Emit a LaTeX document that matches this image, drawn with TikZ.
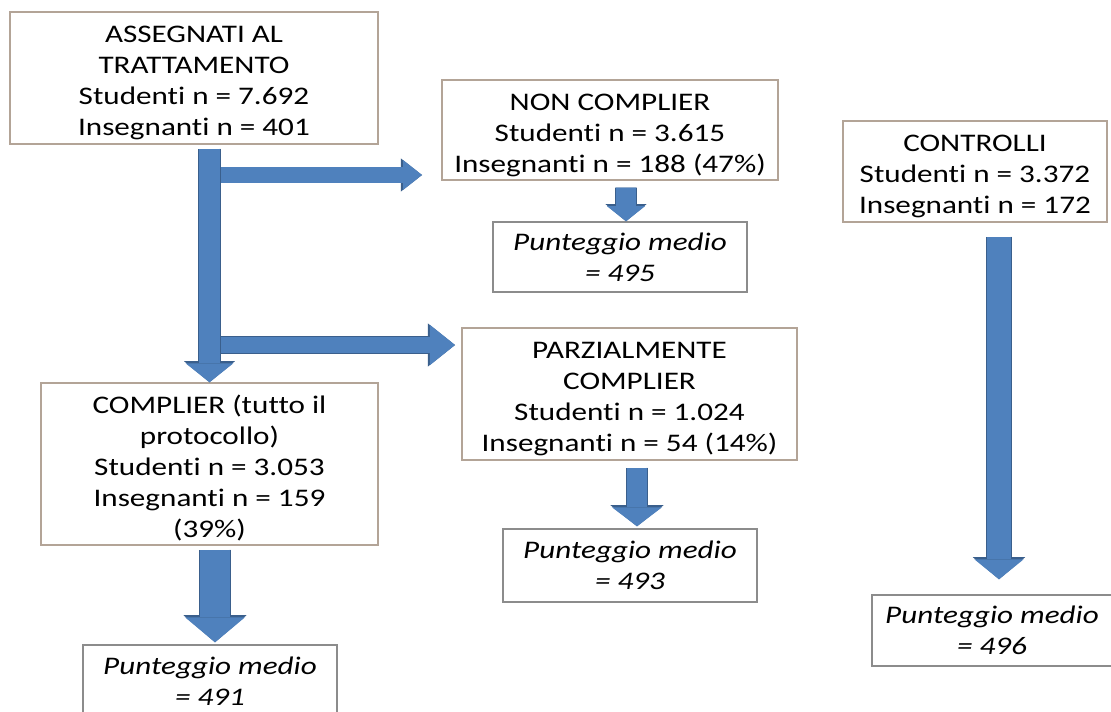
\documentclass[tikz,border=0pt]{standalone}
\usepackage{fontspec}
\setmainfont{Carlito}[FakeStretch=1.23, Ligatures=CommonOff]
\usetikzlibrary{arrows.meta,calc}
\definecolor{flowBlue}{HTML}{4F81BD}
\definecolor{flowEdge}{HTML}{3A5F8C}
\definecolor{flowTan}{HTML}{B3A497}
\definecolor{flowGray}{HTML}{8C8C8C}
\newcommand{\boxstrut}{\rule{0pt}{19pt}}
\tikzset{
  groupbox/.style={draw=flowTan, line width=1pt, fill=white, align=center, inner sep=0pt,
    font=\fontsize{18}{22}\selectfont},
  scorebox/.style={draw=flowGray, line width=1pt, fill=white, align=center, inner sep=0pt,
    font=\fontsize{18}{22}\selectfont\itshape},
  blockarrow/.style n args={3}{draw=flowBlue, line width=#1,
    -{Triangle[width=#2, length=#3, line width=0pt]},
    preaction={draw=flowEdge, line width=#1+1.2pt,
      -{Triangle[width=#2+2.2pt, length=#3+1.5pt, line width=0pt]}}}
}
\begin{document}
\begin{tikzpicture}[x=0.025cm, y=-0.025cm]
  \useasboundingbox (0,0) rectangle (1111,711);
  % boxes
  \node[groupbox, minimum width=9.2cm, minimum height=3.3cm] (assegnati) at (194,78)
    {\boxstrut ASSEGNATI AL\\TRATTAMENTO\\Studenti n = 7.692\\Insegnanti n = 401};
  \node[groupbox, minimum width=8.4cm, minimum height=2.5cm] (noncompl) at (610,130)
    {\boxstrut NON COMPLIER\\Studenti n = 3.615\\Insegnanti n = 188 (47\%)};
  \node[groupbox, minimum width=6.6cm, minimum height=2.525cm] (controlli) at (975,171.5)
    {\boxstrut CONTROLLI\\Studenti n = 3.372\\Insegnanti n = 172};
  \node[groupbox, minimum width=8.375cm, minimum height=3.3cm] (parziale) at (629.5,394)
    {\boxstrut PARZIALMENTE\\COMPLIER\\Studenti n = 1.024\\Insegnanti n = 54 (14\%)};
  \node[groupbox, minimum width=8.425cm, minimum height=4.05cm] (complier) at (209.5,464)
    {\boxstrut COMPLIER (tutto il\\protocollo)\\Studenti n = 3.053\\Insegnanti n = 159\\(39\%)};
  \node[scorebox, minimum width=6.35cm, minimum height=1.75cm] (score495) at (620,257)
    {Punteggio medio\\= 495};
  \node[scorebox, minimum width=6.35cm, minimum height=1.825cm] (score493) at (630,565.5)
    {Punteggio medio\\= 493};
  \node[scorebox, minimum width=6cm, minimum height=1.775cm] (score496) at (992,630.5)
    {Punteggio medio\\= 496};
  \node[scorebox, minimum width=6.35cm, minimum height=1.8cm] (score491) at (210,681)
    {Punteggio medio\\= 491};
  % branch tips
  \coordinate (tipnon) at (422,175);
  \coordinate (tipparz) at (455,345);
  % arrows
  \draw[blockarrow={10.7pt}{21.3pt}{13.5pt}] (tipnon -| complier.north) -- (tipnon);
  \draw[blockarrow={12pt}{28.5pt}{17.8pt}] (tipparz -| complier.north) -- (tipparz);
  \draw[blockarrow={15.6pt}{34pt}{13.5pt}] ([yshift=-0.1cm]assegnati.south -| complier.north) -- (complier.north);
  \draw[blockarrow={14.2pt}{27pt}{10.7pt}] ([shift={(6,7)}]score495.north |- noncompl.south) -- ([xshift=0.15cm]score495.north);
  \draw[blockarrow={14.2pt}{35.6pt}{13.5pt}] ([shift={(7,7)}]score493.north |- parziale.south) -- ([shift={(7,-2)}]score493.north);
  \draw[blockarrow={21.3pt}{42.7pt}{17.8pt}] ([shift={(5,4)}]score491.north |- complier.south) -- ([shift={(5,-2)}]score491.north);
  \draw[blockarrow={17pt}{35pt}{14.2pt}] ([shift={(7,14)}]score496.north |- controlli.south) -- ([shift={(7,-15)}]score496.north);
\end{tikzpicture}
\end{document}
